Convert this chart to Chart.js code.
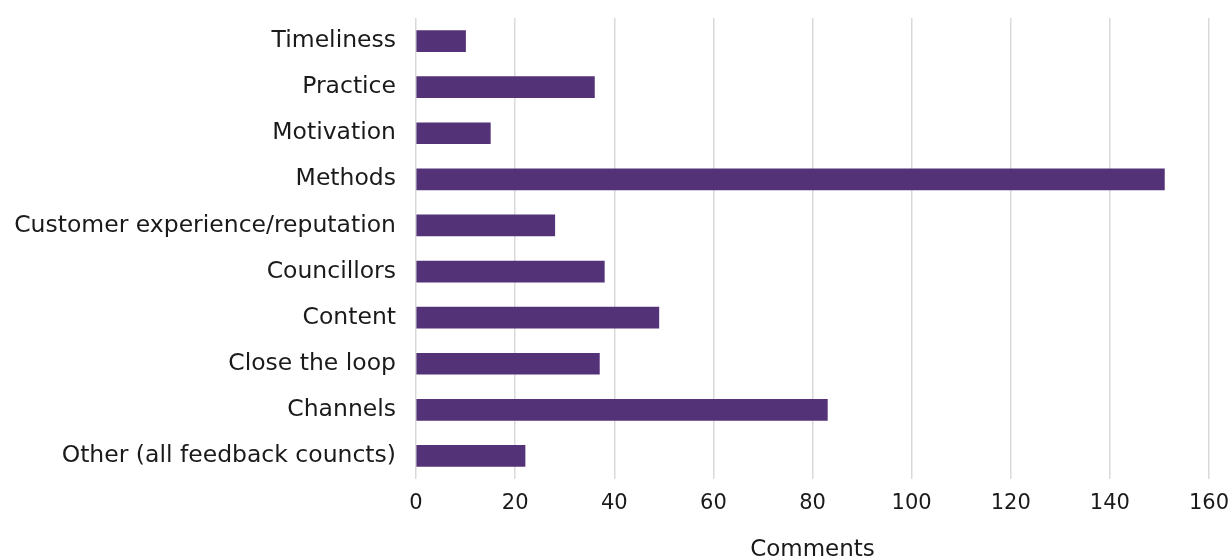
<!DOCTYPE html>
<html>
<head>
<meta charset="utf-8">
<script src="https://cdn.jsdelivr.net/npm/chart.js@4/dist/chart.umd.min.js"></script>
<style>
  html, body { margin: 0; padding: 0; background: #fff; }
  #wrap { width: 1231px; height: 560px; position: relative; }
</style>
</head>
<body>
<div id="wrap"><canvas id="chart"></canvas></div>
<script>
const categories = [
  'Timeliness',
  'Practice',
  'Motivation',
  'Methods',
  'Customer experience/reputation',
  'Councillors',
  'Content',
  'Close the loop',
  'Channels',
  'Other (all feedback councts)',
];
const comments = [10, 36, 15, 151, 28, 38, 49, 37, 83, 22];
const xTicks = [0, 20, 40, 60, 80, 100, 120, 140, 160];

const barColor = '#533278';
const textColor = '#1a1a1a';

Chart.defaults.font.family = "'DejaVu Sans', sans-serif";
Chart.defaults.color = textColor;

const ctx = document.getElementById('chart').getContext('2d');
new Chart(ctx, {
  type: 'bar',
  data: {
    labels: categories,
    datasets: [{
      label: 'Comments',
      data: comments,
      backgroundColor: barColor,
      barThickness: 21,
    }],
  },
  options: {
    indexAxis: 'y',
    responsive: true,
    maintainAspectRatio: false,
    animation: false,
    layout: { padding: 0 },
    plugins: {
      legend: { display: false },
      tooltip: { enabled: false },
    },
    scales: {
      x: {
        min: xTicks[0],
        max: xTicks[xTicks.length - 1],
        afterBuildTicks: scale => { scale.ticks = xTicks.map(v => ({ value: v })); },
        afterFit: scale => {
          scale.height = 81;
          scale.paddingLeft = 0;
          scale.paddingRight = 22;
        },
        grid: { color: '#d9d9d9', lineWidth: 1.5, drawTicks: false },
        border: { display: false },
        ticks: { padding: 12, font: { size: 21 }, color: textColor },
        title: {
          display: true,
          text: 'Comments',
          font: { size: 23 },
          color: textColor,
          padding: { top: 0, bottom: -4 },
        },
      },
      y: {
        afterFit: scale => {
          scale.width = 416;
          scale.paddingTop = 18;
          scale.paddingBottom = 0;
        },
        grid: { display: false },
        border: { display: false },
        ticks: { padding: 12, font: { size: 23.5 }, color: textColor, autoSkip: false },
      },
    },
  },
});
</script>
</body>
</html>
